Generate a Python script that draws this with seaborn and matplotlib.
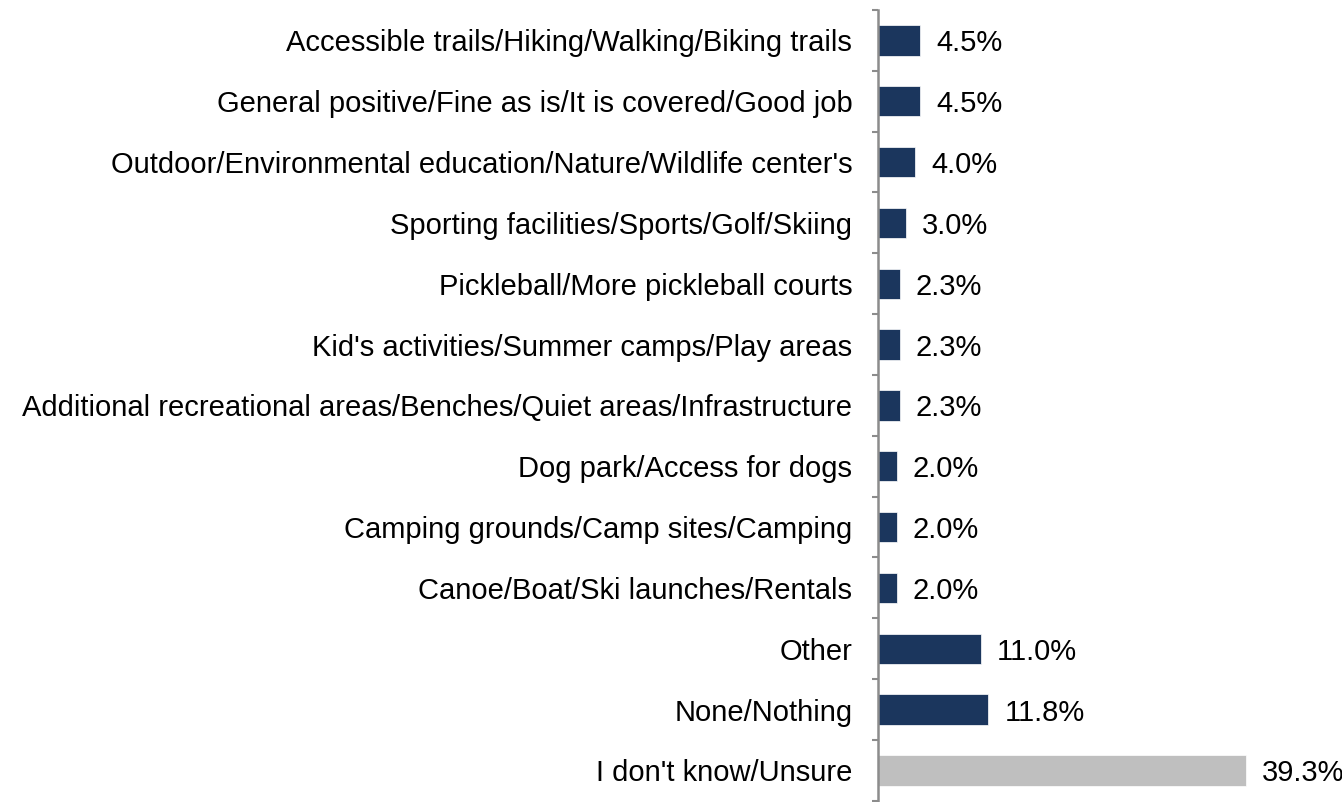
import matplotlib
matplotlib.use("Agg")
import matplotlib.pyplot as plt
import seaborn as sns
import pandas as pd
import numpy as np

categories = [
    "Accessible trails/Hiking/Walking/Biking trails",
    "General positive/Fine as is/It is covered/Good job",
    "Outdoor/Environmental education/Nature/Wildlife center's",
    "Sporting facilities/Sports/Golf/Skiing",
    "Pickleball/More pickleball courts",
    "Kid's activities/Summer camps/Play areas",
    "Additional recreational areas/Benches/Quiet areas/Infrastructure",
    "Dog park/Access for dogs",
    "Camping grounds/Camp sites/Camping",
    "Canoe/Boat/Ski launches/Rentals",
    "Other",
    "None/Nothing",
    "I don't know/Unsure",
]
values = [4.5, 4.5, 4.0, 3.0, 2.3, 2.3, 2.3, 2.0, 2.0, 2.0, 11.0, 11.8, 39.3]

navy = "#1B365D"
grey = "#BFBFBF"
colors = [grey if c == "I don't know/Unsure" else navy for c in categories]

sns.set_style("white")
plt.rcParams["font.family"] = ["Liberation Sans", "DejaVu Sans"]

df = pd.DataFrame({"category": categories, "value": values})

fig = plt.figure(figsize=(13.42, 8.02), dpi=100)
ax = fig.add_axes([878 / 1342, 0.0, 1 - 878 / 1342, (802 - 10) / 802])

sns.barplot(data=df, x="value", y="category", hue="category", palette=colors,
            legend=False, width=0.5, ax=ax, saturation=1, edgecolor="white",
            linewidth=0.5)

ax.set_xlim(0, (1342 - 878) / 9.36)
ax.set_ylim(len(categories) - 0.5 + 0.02, -0.5)

for i, v in enumerate(values):
    ax.text(v + 1.7, i, f"{v:.1f}%", va="center_baseline", ha="left",
            fontsize=21, color="#000000")

ax.set_xlabel("")
ax.set_ylabel("")
ax.set_xticks([])
for s in ["top", "right", "bottom"]:
    ax.spines[s].set_visible(False)
ax.spines["left"].set_color("#8C8C8C")
ax.spines["left"].set_linewidth(1.8)

ax.set_yticks(range(len(categories)))
ax.set_yticklabels(categories, fontsize=21, color="#000000",
                   va="center_baseline")
ax.tick_params(axis="y", which="major", left=True, length=0, pad=18.5)
ax.set_yticks(np.arange(-0.5, len(categories), 1.0), minor=True)
ax.tick_params(axis="y", which="minor", left=True, length=4.5, width=1.5,
               color="#8C8C8C", direction="out")

fig.savefig("out.png", dpi=100)
